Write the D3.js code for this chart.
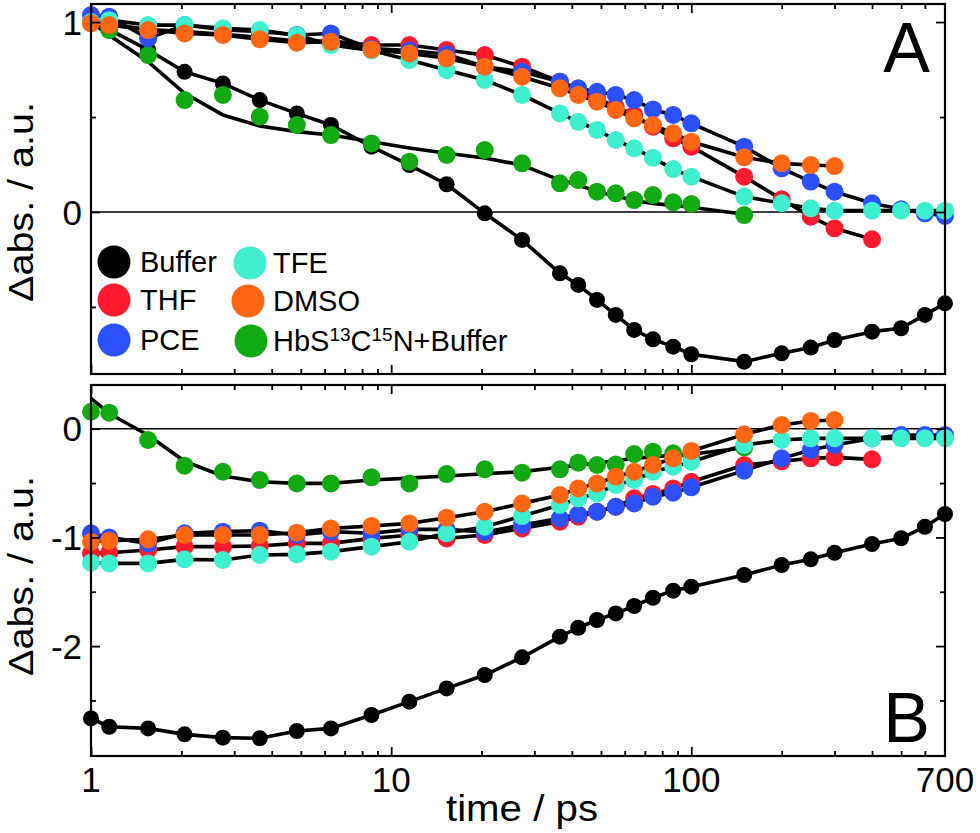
<!DOCTYPE html>
<html><head><meta charset="utf-8">
<script src="https://cdn.jsdelivr.net/npm/d3@7/dist/d3.min.js"></script>
<style>
body{margin:0;background:#fff}
svg{display:block}
text{font-family:"Liberation Sans",Arial,Helvetica,sans-serif;fill:#000}
</style>
</head><body>
<svg id="chart" width="980" height="833"></svg>
<script>
// ---------------- DATA ----------------
const times = [1, 1.15, 1.55, 2.05, 2.75, 3.65, 4.85, 6.3, 8.6, 11.5, 15.3, 20.5, 27.3, 36.5, 42, 48.5, 56, 64.5, 74.5, 87, 100, 150, 200, 250, 300, 400, 500, 600, 700];

const seriesNames = ["Buffer", "THF", "PCE", "TFE", "DMSO", "HbS13C15N+Buffer"];

// Panel A
const bufferA = [1.0, 0.96, 0.853, 0.738, 0.677, 0.589, 0.519, 0.458, 0.344, 0.247, 0.146, -0.007, -0.147, -0.323, -0.384, -0.463, -0.542, -0.621, -0.67, -0.709, -0.749, -0.788, -0.744, -0.714, -0.674, -0.63, -0.612, -0.542, -0.481];
const thfA = [1.0, 0.99, 0.96, 0.95, 0.935, 0.92, 0.9, 0.9, 0.879, 0.879, 0.853, 0.826, 0.765, 0.686, 0.64, 0.6, 0.554, 0.511, 0.449, 0.388, 0.344, 0.186, 0.067, -0.025, -0.086, -0.144];
const pceA = [1.037, 1.028, 0.914, 0.984, 0.96, 0.95, 0.932, 0.94, 0.86, 0.85, 0.83, 0.765, 0.738, 0.686, 0.651, 0.633, 0.616, 0.589, 0.54, 0.511, 0.467, 0.344, 0.23, 0.16, 0.107, 0.046, 0.014, -0.007, -0.021];
const tfeA = [1.0, 1.01, 0.984, 0.984, 0.967, 0.958, 0.93, 0.879, 0.85, 0.8, 0.747, 0.695, 0.616, 0.519, 0.475, 0.432, 0.379, 0.335, 0.285, 0.226, 0.186, 0.081, 0.046, 0.019, 0.007, 0.007, 0.007, 0.007, 0.007];
const dmsoA = [0.993, 0.984, 0.958, 0.94, 0.932, 0.909, 0.891, 0.896, 0.856, 0.835, 0.809, 0.765, 0.712, 0.651, 0.616, 0.581, 0.537, 0.493, 0.458, 0.414, 0.37, 0.288, 0.256, 0.247, 0.242];
const hbsA = [1.0, 0.958, 0.826, 0.589, 0.616, 0.502, 0.458, 0.405, 0.361, 0.265, 0.3, 0.326, 0.256, 0.151, 0.168, 0.107, 0.098, 0.063, 0.089, 0.051, 0.042, -0.016];
const hbsFitA = [1.0, 0.93, 0.791, 0.625, 0.511, 0.453, 0.423, 0.405, 0.37, 0.337, 0.309, 0.284, 0.247, 0.168, 0.142, 0.107, 0.085, 0.06, 0.045, 0.035, 0.025, -0.012];

// Panel B
const bufferB = [-2.665, -2.742, -2.757, -2.812, -2.842, -2.848, -2.781, -2.757, -2.634, -2.511, -2.389, -2.266, -2.103, -1.913, -1.831, -1.76, -1.699, -1.631, -1.555, -1.49, -1.453, -1.346, -1.254, -1.202, -1.141, -1.061, -1.008, -0.902, -0.785];
const thfB = [-1.146, -1.141, -1.116, -1.085, -1.085, -1.079, -1.055, -1.055, -1.009, -0.98, -1.009, -0.978, -0.917, -0.855, -0.81, -0.764, -0.718, -0.64, -0.6, -0.549, -0.488, -0.334, -0.3, -0.273, -0.264, -0.282];
const pceB = [-0.962, -1.0, -1.055, -0.962, -0.947, -0.938, -0.978, -0.947, -0.962, -0.926, -0.926, -0.95, -0.886, -0.825, -0.788, -0.764, -0.718, -0.687, -0.626, -0.589, -0.539, -0.386, -0.273, -0.196, -0.15, -0.09, -0.058, -0.058, -0.058];
const tfeB = [-1.233, -1.239, -1.239, -1.202, -1.208, -1.162, -1.156, -1.131, -1.085, -1.04, -0.962, -0.902, -0.804, -0.702, -0.641, -0.595, -0.518, -0.472, -0.396, -0.35, -0.304, -0.15, -0.104, -0.089, -0.089, -0.089, -0.089, -0.089, -0.089];
const dmsoB = [-1.04, -1.03, -1.018, -0.978, -0.978, -0.978, -0.957, -0.917, -0.895, -0.871, -0.819, -0.764, -0.687, -0.61, -0.549, -0.503, -0.442, -0.396, -0.334, -0.273, -0.205, -0.052, 0.034, 0.071, 0.08];
const hbsB = [0.156, 0.147, -0.104, -0.34, -0.396, -0.472, -0.503, -0.503, -0.447, -0.503, -0.417, -0.374, -0.405, -0.374, -0.313, -0.334, -0.33, -0.233, -0.211, -0.227, -0.242, -0.171];
const hbsFitB = [0.28, 0.14, -0.06, -0.3, -0.435, -0.488, -0.503, -0.503, -0.472, -0.455, -0.435, -0.415, -0.395, -0.355, -0.335, -0.315, -0.295, -0.273, -0.258, -0.245, -0.235, -0.175];

// Axis ticks
const xMajorTicks = [1, 10, 100];
const xMinorTicks = [2, 3, 4, 5, 6, 7, 8, 9, 20, 30, 40, 50, 60, 70, 80, 90, 200, 300, 400, 500, 600];
const xTickLabels = [1, 10, 100, 700];
const yMajorA = [0, 1], yMinorA = [-0.5, 0.5], yLabelsA = [1, 0];
const yMajorB = [0, -1, -2], yMinorB = [-0.5, -1.5, -2.5], yLabelsB = [0, -1, -2];

// ---------------- STYLE ----------------
const colorOf = {
  "Buffer": "#000000",
  "THF": "#ff1a2e",
  "PCE": "#2a50ff",
  "TFE": "#3ff0d0",
  "DMSO": "#ff6612",
  "HbS13C15N+Buffer": "#12aa12"
};

// ---------------- LAYOUT ----------------
const svg = d3.select("#chart");
const L = 91, R = 945;
const x = d3.scaleLog().domain([1, 700]).range([L, R]);
const yA = d3.scaleLinear().domain([-0.853, 1.095]).range([374, 4]);
const yB = d3.scaleLinear().domain([-3.011, 0.402]).range([756, 385]);

function series(vals, fit) {
  return { pts: vals.map((v, i) => [times[i], v]), fit: (fit || vals).map((v, i) => [times[i], v]) };
}

const panelA = {
  y: yA,
  data: {
    "Buffer": series(bufferA), "THF": series(thfA), "PCE": series(pceA),
    "TFE": series(tfeA), "DMSO": series(dmsoA), "HbS13C15N+Buffer": series(hbsA, hbsFitA)
  },
  major: yMajorA, minor: yMinorA, labels: yLabelsA, letter: "A", titleY: 202
};
const panelB = {
  y: yB,
  data: {
    "Buffer": series(bufferB), "THF": series(thfB), "PCE": series(pceB),
    "TFE": series(tfeB), "DMSO": series(dmsoB), "HbS13C15N+Buffer": series(hbsB, hbsFitB)
  },
  major: yMajorB, minor: yMinorB, labels: yLabelsB, letter: "B", titleY: 576
};

const drawOrder = ["Buffer", "HbS13C15N+Buffer", "THF", "PCE", "TFE", "DMSO"];

function drawPanel(p, showXLabels) {
  const y = p.y;
  const top = y.range()[1], bot = y.range()[0];
  const g = svg.append("g");

  // zero line
  g.append("line").attr("x1", L).attr("x2", R).attr("y1", y(0)).attr("y2", y(0))
    .attr("stroke", "#000").attr("stroke-width", 1.6);

  const line = d3.line().x(d => x(d[0])).y(d => y(d[1]));
  drawOrder.forEach(name => {
    g.append("path").datum(p.data[name].fit).attr("d", line)
      .attr("fill", "none").attr("stroke", "#000").attr("stroke-width", 3.6)
      .attr("stroke-linejoin", "round");
  });
  drawOrder.forEach(name => {
    g.selectAll(null).data(p.data[name].pts).enter().append("circle")
      .attr("cx", d => x(d[0])).attr("cy", d => y(d[1]))
      .attr("r", name === "Buffer" ? 8 : 9)
      .attr("fill", colorOf[name]);
  });

  const axG = svg.append("g");
  const mk = (axisFn, scale, vals, size) => axisFn(scale).tickValues(vals).tickSize(size).tickSizeOuter(0).tickFormat("");
  [[d3.axisBottom, bot, -9, xMajorTicks], [d3.axisBottom, bot, -5, xMinorTicks],
   [d3.axisTop, top, -9, xMajorTicks], [d3.axisTop, top, -5, xMinorTicks]].forEach(([fn, yy, s, v]) => {
    const a = axG.append("g").attr("transform", `translate(0,${yy})`).call(mk(fn, x, v, s));
    a.select(".domain").remove();
    a.selectAll("line").attr("stroke-width", 1.8);
  });
  [[d3.axisLeft, L, -9, p.major], [d3.axisLeft, L, -5, p.minor],
   [d3.axisRight, R, -9, p.major], [d3.axisRight, R, -5, p.minor]].forEach(([fn, xx, s, v]) => {
    const a = axG.append("g").attr("transform", `translate(${xx},0)`).call(mk(fn, y, v, s));
    a.select(".domain").remove();
    a.selectAll("line").attr("stroke-width", 1.8);
  });
  axG.append("rect").attr("x", L).attr("y", top).attr("width", R - L).attr("height", bot - top)
    .attr("fill", "none").attr("stroke", "#000").attr("stroke-width", 2.2);

  axG.selectAll(null).data(p.labels).enter().append("text")
    .attr("x", L - 9).attr("y", d => y(d)).attr("dy", "0.36em")
    .attr("text-anchor", "end").attr("font-size", 35)
    .text(d => d < 0 ? "-" + Math.abs(d) : d);

  axG.append("text")
    .attr("transform", `translate(33,${p.titleY}) rotate(-90)`)
    .attr("text-anchor", "middle").attr("font-size", 35)
    .attr("textLength", 200).attr("lengthAdjust", "spacingAndGlyphs")
    .text("\u0394abs. / a.u.");

  axG.append("text").attr("x", 930).attr("text-anchor", "end")
    .attr("y", p.letter === "A" ? 72 : 742).attr("font-size", 70).text(p.letter);

  if (showXLabels) {
    axG.selectAll(null).data(xTickLabels).enter().append("text")
      .attr("x", d => x(d)).attr("y", 792).attr("text-anchor", "middle").attr("font-size", 35)
      .text(d => d);
  }
}

drawPanel(panelA, false);
drawPanel(panelB, true);

svg.append("text").attr("x", 522).attr("y", 821).attr("text-anchor", "middle")
  .attr("font-size", 37).attr("textLength", 152).attr("lengthAdjust", "spacingAndGlyphs")
  .text("time / ps");

// legend
const legendItems = [
  { name: "Buffer", cx: 114, cy: 262, tx: 140 },
  { name: "THF", cx: 114, cy: 300, tx: 140 },
  { name: "PCE", cx: 114, cy: 340, tx: 140 },
  { name: "TFE", cx: 250, cy: 263, tx: 273 },
  { name: "DMSO", cx: 248, cy: 301, tx: 273 },
  { name: "HbS13C15N+Buffer", cx: 251, cy: 341, tx: 273 }
];
const lg = svg.append("g");
legendItems.forEach(it => {
  lg.append("circle").attr("cx", it.cx).attr("cy", it.cy).attr("r", 16.5).attr("fill", colorOf[it.name]);
  const t = lg.append("text").attr("x", it.tx).attr("y", it.cy).attr("dy", "0.36em").attr("font-size", 29);
  if (it.name === "HbS13C15N+Buffer") {
    t.append("tspan").text("HbS");
    t.append("tspan").attr("font-size", 19).attr("dy", "-0.55em").text("13");
    t.append("tspan").attr("dy", "0.36em").text("C");
    t.append("tspan").attr("font-size", 19).attr("dy", "-0.55em").text("15");
    t.append("tspan").attr("dy", "0.36em").text("N+Buffer");
  } else {
    t.text(it.name);
  }
});
</script>
</body></html>
